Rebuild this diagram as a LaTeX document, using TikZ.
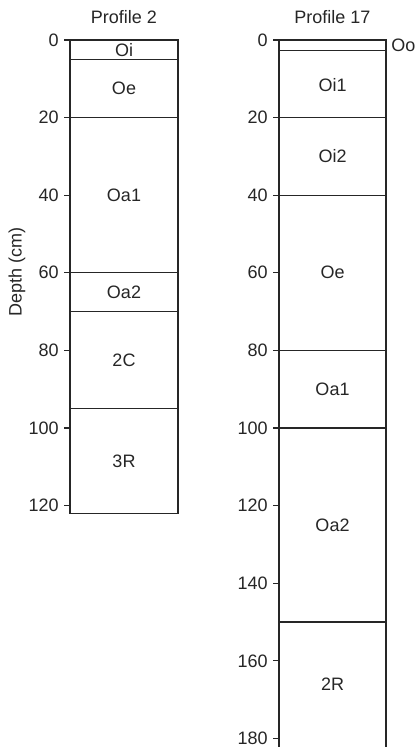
\documentclass[tikz,border=0pt]{standalone}
\usepackage{fontspec}
\setmainfont{Liberation Sans}
\begin{document}
\begin{tikzpicture}[x=0.5pt,y=-0.5pt,
  every node/.style={font=\fontsize{9}{10}\selectfont, text=black!85, inner sep=0pt},
  ln/.style={line width=0.6pt, draw=black!85},
  ticklab/.style={anchor=east},
  laylab/.style={anchor=center}]
\useasboundingbox (0,0) rectangle (418,747);
\def\sc{3.88}
% ---------- Profile 2 ----------
\node (t2) at (124,17) {Profile 2};
\draw[ln] (70,40) rectangle (178,{40+\sc*122});
\foreach \d in {5,20,60,70,95}
  \draw[ln] (70,{40+\sc*\d}) -- (178,{40+\sc*\d});
\foreach \d in {0,20,...,120}{
  \draw[ln] (64,{40+\sc*\d}) -- (70,{40+\sc*\d});
  \node[ticklab] at (59,{40+\sc*\d}) {\d};
}
\foreach \lab/\d in {Oi/2.5, Oe/12.5, Oa1/40, Oa2/65, 2C/82.5, 3R/108.5}
  \node[laylab] at (124,{40+\sc*\d}) {\lab};
\node[rotate=90] (dep) at (17,272) {Depth (cm)};
% ---------- Profile 17 ----------
\node (t17) at (332.5,17) {Profile 17};
\draw[ln] (279,747) -- (279,40) -- (386,40) -- (386,747);
\foreach \d in {2.75,20,40,80,100,150}
  \draw[ln] (279,{40+\sc*\d}) -- (386,{40+\sc*\d});
\foreach \d in {0,20,...,180}{
  \draw[ln] (273,{40+\sc*\d}) -- (279,{40+\sc*\d});
  \node[ticklab] at (268,{40+\sc*\d}) {\d};
}
\foreach \lab/\d in {Oi1/11.5, Oi2/30, Oe/60, Oa1/90, Oa2/125, 2R/166}
  \node[laylab] at (332.5,{40+\sc*\d}) {\lab};
\node[anchor=west] (oo) at (391,45) {Oo};
\end{tikzpicture}
\end{document}
